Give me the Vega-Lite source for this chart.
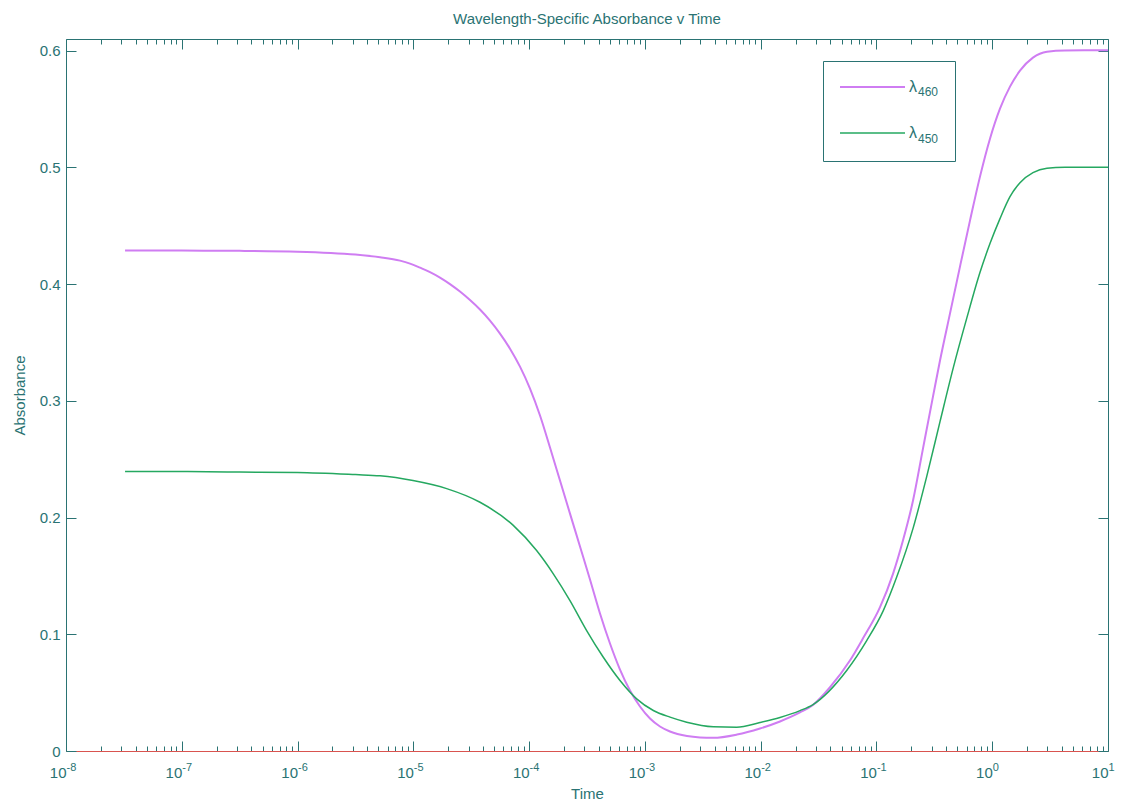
{
  "$schema": "https://vega.github.io/schema/vega-lite/v6.json",
  "width": 1042,
  "height": 712,
  "autosize": {"type": "none"},
  "padding": {"left": 66, "top": 39, "right": 20, "bottom": 51},
  "background": "white",
  "config": {
    "font": "Liberation Sans",
    "view": {"stroke": null},
    "axis": {
      "grid": false,
      "domainColor": "#2a7373",
      "tickColor": "#2a7373",
      "labelColor": "#2a7373",
      "titleColor": "#2a7373",
      "labelFontSize": 15,
      "titleFontSize": 15,
      "titleFontWeight": "normal",
      "labelFont": "Liberation Sans",
      "titleFont": "Liberation Sans"
    }
  },
  "title": {
    "text": "Wavelength-Specific Absorbance v Time",
    "fontSize": 15,
    "fontWeight": "normal",
    "color": "#2a7373",
    "font": "Liberation Sans",
    "anchor": "middle",
    "offset": 12
  },
  "data": {
    "values": [
      {"s": "460", "t": 3.236e-8, "A": 0.4287},
      {"s": "460", "t": 1e-7, "A": 0.4287},
      {"s": "460", "t": 3.162e-7, "A": 0.4285},
      {"s": "460", "t": 1e-6, "A": 0.4278},
      {"s": "460", "t": 3.162e-6, "A": 0.4253},
      {"s": "460", "t": 5.152e-6, "A": 0.423},
      {"s": "460", "t": 7.671e-6, "A": 0.4201},
      {"s": "460", "t": 9.359e-6, "A": 0.4176},
      {"s": "460", "t": 1.142e-5, "A": 0.4141},
      {"s": "460", "t": 1.393e-5, "A": 0.4103},
      {"s": "460", "t": 1.699e-5, "A": 0.4056},
      {"s": "460", "t": 2.073e-5, "A": 0.4},
      {"s": "460", "t": 2.529e-5, "A": 0.3936},
      {"s": "460", "t": 3.086e-5, "A": 0.3863},
      {"s": "460", "t": 3.765e-5, "A": 0.3782},
      {"s": "460", "t": 4.593e-5, "A": 0.3687},
      {"s": "460", "t": 5.604e-5, "A": 0.3576},
      {"s": "460", "t": 6.838e-5, "A": 0.3447},
      {"s": "460", "t": 8.342e-5, "A": 0.3293},
      {"s": "460", "t": 1.018e-4, "A": 0.3105},
      {"s": "460", "t": 1.242e-4, "A": 0.2874},
      {"s": "460", "t": 1.515e-4, "A": 0.26},
      {"s": "460", "t": 1.848e-4, "A": 0.2317},
      {"s": "460", "t": 2.255e-4, "A": 0.2034},
      {"s": "460", "t": 2.751e-4, "A": 0.1752},
      {"s": "460", "t": 3.356e-4, "A": 0.1469},
      {"s": "460", "t": 4.095e-4, "A": 0.1178},
      {"s": "460", "t": 4.995e-4, "A": 0.0921},
      {"s": "460", "t": 6.095e-4, "A": 0.0698},
      {"s": "460", "t": 7.435e-4, "A": 0.0518},
      {"s": "460", "t": 9.072e-4, "A": 0.0381},
      {"s": "460", "t": 1.107e-3, "A": 0.0278},
      {"s": "460", "t": 1.35e-3, "A": 0.021},
      {"s": "460", "t": 1.647e-3, "A": 0.0167},
      {"s": "460", "t": 2.31e-3, "A": 0.0128},
      {"s": "460", "t": 2.991e-3, "A": 0.0116},
      {"s": "460", "t": 3.874e-3, "A": 0.0113},
      {"s": "460", "t": 6.245e-3, "A": 0.0141},
      {"s": "460", "t": 9.865e-3, "A": 0.0193},
      {"s": "460", "t": 1.469e-2, "A": 0.0253},
      {"s": "460", "t": 2.186e-2, "A": 0.033},
      {"s": "460", "t": 2.831e-2, "A": 0.0394},
      {"s": "460", "t": 3.972e-2, "A": 0.0546},
      {"s": "460", "t": 5.902e-2, "A": 0.0775},
      {"s": "460", "t": 7.656e-2, "A": 0.0965},
      {"s": "460", "t": 1.074e-1, "A": 0.1232},
      {"s": "460", "t": 1.39e-1, "A": 0.1518},
      {"s": "460", "t": 1.694e-1, "A": 0.1803},
      {"s": "460", "t": 2.07e-1, "A": 0.2146},
      {"s": "460", "t": 2.523e-1, "A": 0.2591},
      {"s": "460", "t": 3.078e-1, "A": 0.3036},
      {"s": "460", "t": 3.54e-1, "A": 0.3345},
      {"s": "460", "t": 4.316e-1, "A": 0.3747},
      {"s": "460", "t": 5.267e-1, "A": 0.415},
      {"s": "460", "t": 6.425e-1, "A": 0.4544},
      {"s": "460", "t": 7.84e-1, "A": 0.4921},
      {"s": "460", "t": 9.565e-1, "A": 0.5246},
      {"s": "460", "t": 1.167, "A": 0.5503},
      {"s": "460", "t": 1.424, "A": 0.5692},
      {"s": "460", "t": 1.737, "A": 0.5829},
      {"s": "460", "t": 2.249, "A": 0.594},
      {"s": "460", "t": 2.972, "A": 0.5991},
      {"s": "460", "t": 4.25, "A": 0.6002},
      {"s": "460", "t": 10, "A": 0.6003},
      {"s": "450", "t": 3.236e-8, "A": 0.2394},
      {"s": "450", "t": 1e-7, "A": 0.2394},
      {"s": "450", "t": 3.162e-7, "A": 0.239},
      {"s": "450", "t": 1e-6, "A": 0.2386},
      {"s": "450", "t": 3.162e-6, "A": 0.2368},
      {"s": "450", "t": 5.152e-6, "A": 0.2358},
      {"s": "450", "t": 9.93e-6, "A": 0.2317},
      {"s": "450", "t": 1.941e-5, "A": 0.2248},
      {"s": "450", "t": 3.767e-5, "A": 0.2131},
      {"s": "450", "t": 7.261e-5, "A": 0.1935},
      {"s": "450", "t": 1.161e-4, "A": 0.1717},
      {"s": "450", "t": 1.618e-4, "A": 0.1518},
      {"s": "450", "t": 2.254e-4, "A": 0.1289},
      {"s": "450", "t": 3.141e-4, "A": 0.1032},
      {"s": "450", "t": 4.375e-4, "A": 0.0803},
      {"s": "450", "t": 6.095e-4, "A": 0.0604},
      {"s": "450", "t": 8.492e-4, "A": 0.0447},
      {"s": "450", "t": 1.183e-3, "A": 0.0347},
      {"s": "450", "t": 1.648e-3, "A": 0.029},
      {"s": "450", "t": 2.296e-3, "A": 0.0247},
      {"s": "450", "t": 3.899e-3, "A": 0.0208},
      {"s": "450", "t": 6.209e-3, "A": 0.0204},
      {"s": "450", "t": 9.863e-3, "A": 0.0244},
      {"s": "450", "t": 1.469e-2, "A": 0.0287},
      {"s": "450", "t": 2.186e-2, "A": 0.0346},
      {"s": "450", "t": 2.831e-2, "A": 0.0398},
      {"s": "450", "t": 5.534e-2, "A": 0.069},
      {"s": "450", "t": 8.241e-2, "A": 0.0946},
      {"s": "450", "t": 1.146e-1, "A": 0.1203},
      {"s": "450", "t": 1.496e-1, "A": 0.149},
      {"s": "450", "t": 2.08e-1, "A": 0.1914},
      {"s": "450", "t": 2.716e-1, "A": 0.2351},
      {"s": "450", "t": 3.54e-1, "A": 0.2822},
      {"s": "450", "t": 4.613e-1, "A": 0.3285},
      {"s": "450", "t": 6.012e-1, "A": 0.3704},
      {"s": "450", "t": 7.834e-1, "A": 0.4099},
      {"s": "450", "t": 9.565e-1, "A": 0.4347},
      {"s": "450", "t": 1.167, "A": 0.4561},
      {"s": "450", "t": 1.424, "A": 0.4749},
      {"s": "450", "t": 1.737, "A": 0.4869},
      {"s": "450", "t": 2.249, "A": 0.4955},
      {"s": "450", "t": 2.972, "A": 0.4993},
      {"s": "450", "t": 4.25, "A": 0.5001},
      {"s": "450", "t": 10, "A": 0.5002}
    ]
  },
  "layer": [
    {
      "mark": {"type": "line", "interpolate": "monotone"},
      "encoding": {
        "x": {
          "field": "t", "type": "quantitative",
          "scale": {"type": "log", "domain": [1e-8, 10], "nice": false},
          "axis": {
            "orient": "bottom",
            "title": "Time",
            "titlePadding": 1,
            "domainColor": "#d9534f",
            "values": [1e-8,2e-8,3e-8,4e-8,5e-8,6e-8,7e-8,8e-8,9e-8,1e-7,2e-7,3e-7,4e-7,5e-7,6e-7,7e-7,8e-7,9e-7,1e-6,2e-6,3e-6,4e-6,5e-6,6e-6,7e-6,8e-6,9e-6,1e-5,2e-5,3e-5,4e-5,5e-5,6e-5,7e-5,8e-5,9e-5,1e-4,2e-4,3e-4,4e-4,5e-4,6e-4,7e-4,8e-4,9e-4,1e-3,2e-3,3e-3,4e-3,5e-3,6e-3,7e-3,8e-3,9e-3,0.01,0.02,0.03,0.04,0.05,0.06,0.07,0.08,0.09,0.1,0.2,0.3,0.4,0.5,0.6,0.7,0.8,0.9,1,2,3,4,5,6,7,8,9,10],
            "tickSize": {"condition": {"test": "abs(log(datum.value)/LN10 - round(log(datum.value)/LN10)) < 0.001", "value": -10}, "value": -5},
            "labelExpr": "abs(log(datum.value)/LN10 - round(log(datum.value)/LN10)) < 0.001 ? '10' : ''",
            "labelAlign": "right",
            "labelBaseline": "top",
            "labelDx": 3,
            "labelOverlap": false,
            "labelFlush": false,
            "labelBound": false,
            "labelPadding": 24
          }
        },
        "y": {
          "field": "A", "type": "quantitative",
          "scale": {"domain": [0, 0.61], "nice": false, "zero": true},
          "axis": {
            "orient": "left",
            "title": "Absorbance",
            "titlePadding": 12,
            "values": [0, 0.1, 0.2, 0.3, 0.4, 0.5, 0.6],
            "format": ".1~f",
            "tickSize": -10,
            "labelPadding": 16
          }
        },
        "color": {
          "field": "s", "type": "nominal",
          "scale": {"domain": ["460", "450"], "range": ["#cf7df2", "#25a860"]},
          "legend": {
            "orient": "none",
            "legendX": 757,
            "legendY": 22,
            "title": null,
            "symbolType": "stroke",
            "symbolSize": 4225,
            "symbolStrokeWidth": 1.8,
            "labelFontSize": 16,
            "labelFont": "Liberation Sans",
            "labelColor": "#2a7373",
            "labelOffset": 3,
            "padding": 16,
            "strokeColor": null,
            "fillColor": null,
            "rowPadding": 26,
            "clipHeight": 20,
            "labelExpr": "'λ'"
          }
        },
        "strokeWidth": {
          "field": "s", "type": "nominal",
          "scale": {"domain": ["460", "450"], "range": [2, 1.5]},
          "legend": null
        }
      }
    },
    {
      "mark": {"type": "line", "strokeOpacity": 0},
      "encoding": {
        "x": {
          "field": "t", "type": "quantitative",
          "axis": {
            "orient": "top",
            "title": null,
            "labels": false,
            "values": [1e-8,2e-8,3e-8,4e-8,5e-8,6e-8,7e-8,8e-8,9e-8,1e-7,2e-7,3e-7,4e-7,5e-7,6e-7,7e-7,8e-7,9e-7,1e-6,2e-6,3e-6,4e-6,5e-6,6e-6,7e-6,8e-6,9e-6,1e-5,2e-5,3e-5,4e-5,5e-5,6e-5,7e-5,8e-5,9e-5,1e-4,2e-4,3e-4,4e-4,5e-4,6e-4,7e-4,8e-4,9e-4,1e-3,2e-3,3e-3,4e-3,5e-3,6e-3,7e-3,8e-3,9e-3,0.01,0.02,0.03,0.04,0.05,0.06,0.07,0.08,0.09,0.1,0.2,0.3,0.4,0.5,0.6,0.7,0.8,0.9,1,2,3,4,5,6,7,8,9,10],
            "tickSize": {"condition": {"test": "abs(log(datum.value)/LN10 - round(log(datum.value)/LN10)) < 0.001", "value": -10}, "value": -5}
          }
        },
        "y": {
          "field": "A", "type": "quantitative",
          "axis": {
            "orient": "right",
            "title": null,
            "labels": false,
            "values": [0, 0.1, 0.2, 0.3, 0.4, 0.5, 0.6],
            "tickSize": -10
          }
        },
        "strokeDash": {
          "field": "s", "type": "nominal",
          "sort": "descending",
          "legend": {
            "orient": "none",
            "legendX": 757,
            "legendY": 22,
            "title": null,
            "symbolType": "stroke",
            "symbolSize": 4225,
            "symbolOpacity": 0,
            "symbolStrokeWidth": 1.8,
            "labelFontSize": 12,
            "labelFont": "Liberation Sans",
            "labelColor": "#2a7373",
            "labelOffset": 12,
            "labelBaseline": "top",
            "padding": 16,
            "strokeColor": "#2a7373",
            "fillColor": null,
            "rowPadding": 26,
            "clipHeight": 20,
            "labelExpr": "datum.value + '  '"
          }
        }
      }
    },
    {
      "mark": {"type": "line", "strokeOpacity": 0},
      "encoding": {
        "x": {
          "field": "t", "type": "quantitative",
          "axis": {
            "orient": "bottom",
            "title": null,
            "domain": false,
            "ticks": false,
            "tickSize": 0,
            "values": [1e-8, 1e-7, 1e-6, 1e-5, 1e-4, 1e-3, 0.01, 0.1, 1, 10],
            "labelExpr": "['-8','-7','-6','-5','-4','-3','-2','-1','0','1'][round(log(datum.value)/LN10)+8]",
            "labelFontSize": 11,
            "labelAlign": "left",
            "labelBaseline": "top",
            "labelDx": 3,
            "labelPadding": 10,
            "labelOverlap": false,
            "labelFlush": false,
            "labelBound": false
          }
        },
        "y": {"field": "A", "type": "quantitative", "axis": null},
        "detail": {"field": "s", "type": "nominal"}
      }
    }
  ],
  "resolve": {"axis": {"x": "independent", "y": "independent"}}
}
